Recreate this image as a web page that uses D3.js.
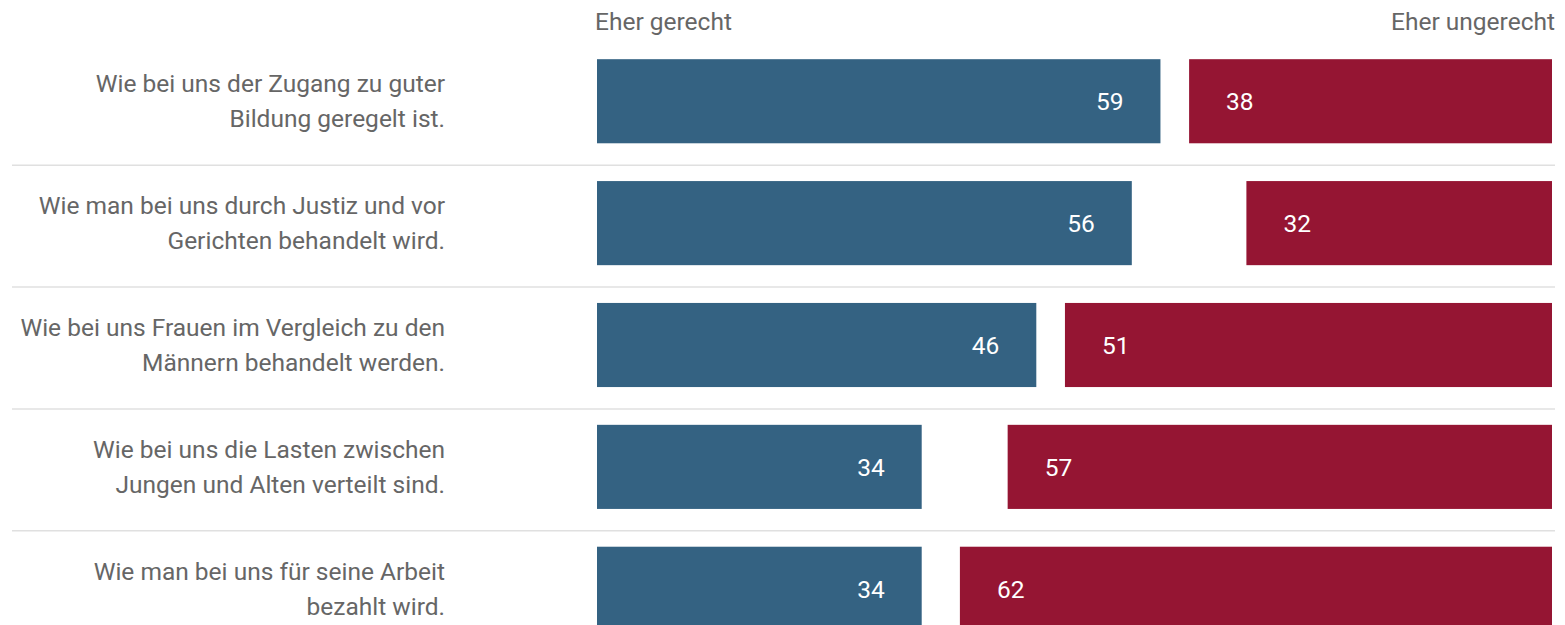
<!DOCTYPE html>
<html>
<head>
<meta charset="utf-8">
<script src="https://cdn.jsdelivr.net/npm/d3@7"></script>
<style>
  body { margin: 0; background: #fff; }
  svg text { font-family: "Roboto", sans-serif; }
</style>
</head>
<body>
<svg id="mySvg"></svg>
<script>
// Data
const questions = [
    ["Wie bei uns der Zugang zu guter", "Bildung geregelt ist."],
    ["Wie man bei uns durch Justiz und vor", "Gerichten behandelt wird."],
    ["Wie bei uns Frauen im Vergleich zu den", "Männern behandelt werden."],
    ["Wie bei uns die Lasten zwischen", "Jungen und Alten verteilt sind."],
    ["Wie man bei uns für seine Arbeit", "bezahlt wird."]
];
const gerecht = [59, 56, 46, 34, 34];
const ungerecht = [38, 32, 51, 57, 62];
const headers = ["Eher gerecht", "Eher ungerecht"];

const width = 1565, height = 625;
const left = 597, right = 1552;
const fontSize = 24.5;

const svg = d3.select("#mySvg")
    .attr("width", width)
    .attr("height", height);

// scales
const y = d3.scaleBand()
    .domain(d3.range(questions.length))
    .range([47, 643])
    .paddingInner(0.31)
    .paddingOuter(0.1);
const x = d3.scaleLinear().domain([0, 100]).range([0, right - left]);

// headers
svg.append("text")
    .attr("x", left - 2).attr("y", 30)
    .attr("fill", "#666").attr("font-size", fontSize)
    .text(headers[0]);
svg.append("text")
    .attr("x", width - 10).attr("y", 30)
    .attr("text-anchor", "end")
    .attr("fill", "#666").attr("font-size", fontSize)
    .text(headers[1]);

// separator lines between rows
const step = y.step();
svg.selectAll(".sep")
    .data(d3.range(1, questions.length))
    .join("line")
    .attr("x1", 12).attr("x2", 1555)
    .attr("y1", i => y(i) - (step - y.bandwidth()) / 2 + 3)
    .attr("y2", i => y(i) - (step - y.bandwidth()) / 2 + 3)
    .attr("stroke", "#e0e0e0").attr("stroke-width", 1.5);

const rows = svg.selectAll(".row")
    .data(questions)
    .join("g")
    .attr("transform", (d, i) => `translate(0, ${y(i)})`);

// question labels
rows.append("text")
    .attr("text-anchor", "end")
    .attr("fill", "#666")
    .attr("font-size", fontSize)
    .selectAll("tspan")
    .data(d => d)
    .join("tspan")
    .attr("x", 445)
    .attr("y", (d, j) => y.bandwidth() / 2 - 9 + j * 35)
    .text(d => d);

// blue bars
rows.append("rect")
    .attr("x", left)
    .attr("width", (d, i) => x(gerecht[i]))
    .attr("height", y.bandwidth())
    .attr("fill", "#346282");
rows.append("text")
    .attr("x", (d, i) => left + x(gerecht[i]) - 37)
    .attr("y", y.bandwidth() / 2 + 9)
    .attr("text-anchor", "end")
    .attr("fill", "#fff").attr("font-size", fontSize)
    .text((d, i) => gerecht[i]);

// red bars
rows.append("rect")
    .attr("x", (d, i) => right - x(ungerecht[i]))
    .attr("width", (d, i) => x(ungerecht[i]))
    .attr("height", y.bandwidth())
    .attr("fill", "#951533");
rows.append("text")
    .attr("x", (d, i) => right - x(ungerecht[i]) + 37)
    .attr("y", y.bandwidth() / 2 + 9)
    .attr("fill", "#fff").attr("font-size", fontSize)
    .text((d, i) => ungerecht[i]);
</script>
</body>
</html>
